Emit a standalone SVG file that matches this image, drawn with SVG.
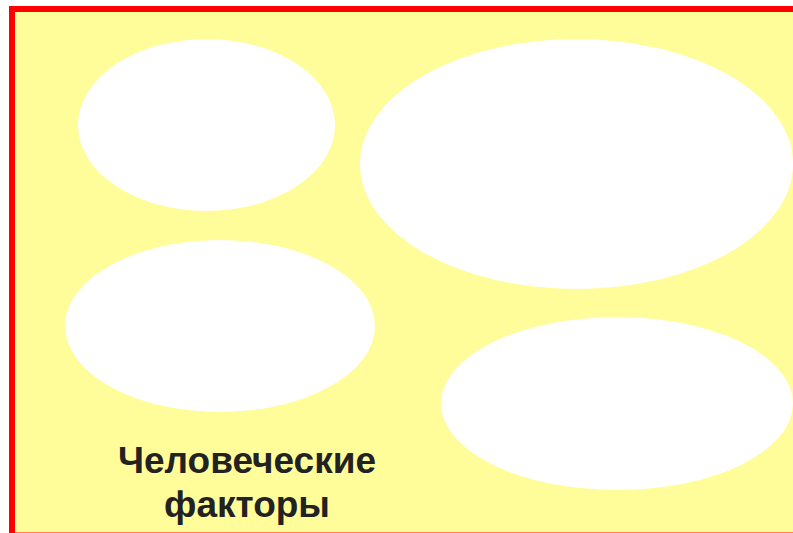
<svg xmlns="http://www.w3.org/2000/svg" width="793" height="533" viewBox="0 0 793 533">
<style>
.bg{fill:#FFFD99;stroke:#FF0000;stroke-width:6}
.oval{fill:#FFFFFF;stroke:none}
.lbl{font-family:"Liberation Sans",Arial,sans-serif;font-weight:bold;font-size:37px;fill:#222222;text-anchor:middle}
</style>
<rect class="bg" x="12" y="9" width="800" height="526.5"/>
<g id="oval1"><ellipse class="oval" cx="206.5" cy="125" rx="128.5" ry="86"/></g>
<g id="oval2"><ellipse class="oval" cx="576.5" cy="164" rx="216.5" ry="125"/></g>
<g id="oval3"><ellipse class="oval" cx="220" cy="326" rx="155" ry="86"/></g>
<g id="oval4"><ellipse class="oval" cx="617" cy="403.5" rx="176" ry="86.5"/></g>
<g id="label"><text class="lbl" x="247" y="473">Человеческие</text><text class="lbl" x="247" y="517">факторы</text></g>
<g id="connectors"/>
</svg>
